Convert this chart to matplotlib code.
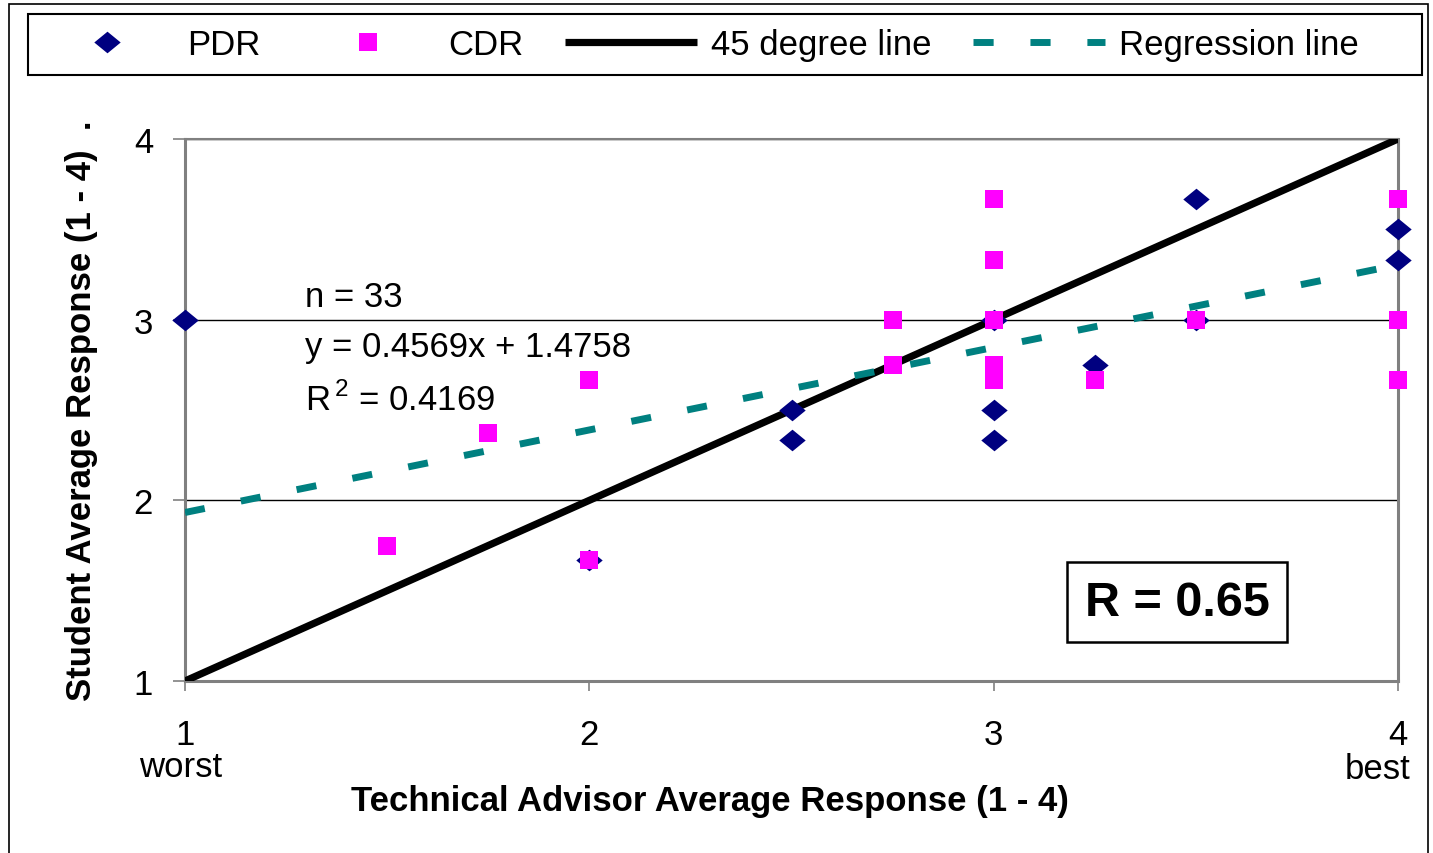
import numpy as np
import matplotlib.pyplot as plt
import matplotlib as mpl
from matplotlib.lines import Line2D
from matplotlib.patches import Rectangle

mpl.rcParams['font.family'] = 'Liberation Sans'
mpl.rcParams['font.size'] = 25
mpl.rcParams['mathtext.fontset'] = 'custom'
mpl.rcParams['mathtext.rm'] = 'Liberation Sans'

# data
pdr_x = [1, 2, 2.5, 2.5, 3, 3, 3, 3.25, 3.5, 3.5, 4, 4]
pdr_y = [3, 1.667, 2.5, 2.333, 3, 2.5, 2.333, 2.75, 3.667, 3, 3.5, 3.333]
cdr_x = [1.5, 1.75, 2, 2, 2.75, 2.75, 3, 3, 3, 3, 3, 3.25, 3.5, 4, 4, 4]
cdr_y = [1.75, 2.375, 2.667, 1.667, 3, 2.75, 3.667, 3.333, 3, 2.75, 2.667,
         2.667, 3, 3.667, 3, 2.667]

slope = 0.4569
intercept = 1.4758
n_obs = 33
r2 = 0.4169
r_value = 0.65

ticks = [1, 2, 3, 4]
labels = ['PDR', 'CDR', '45 degree line', 'Regression line']

navy = '#000080'
magenta = '#FF00FF'
teal = '#008080'
grey = '#808080'
diamond = [(-1, 0), (0, 0.82), (1, 0), (0, -0.82)]

fig = plt.figure(figsize=(14.33, 8.54), dpi=100)
ax = fig.add_axes([185/1433, 1 - 682/854, (1398 - 185)/1433, (682 - 140)/854])

# lines
ax.plot([1, 4], [1, 4], color='k', lw=5.2, solid_capstyle='butt', zorder=3)
xr = np.array([1, 4])
ax.plot(xr, slope*xr + intercept, color=teal, lw=5, dashes=(2.9, 5.3),
        dash_capstyle='butt', zorder=3)

# points
ax.plot(pdr_x, pdr_y, ls='none', marker=diamond, ms=19, color=navy,
        mew=0, clip_on=False, zorder=4)
ax.plot(cdr_x, cdr_y, ls='none', marker='s', ms=13.5, color=magenta,
        mew=0, clip_on=False, zorder=5)

ax.set_xlim(1, 4)
ax.set_ylim(1, 4)
ax.set_xticks(ticks)
ax.set_yticks(ticks)
ax.yaxis.grid(True, color='k', lw=1)
ax.set_axisbelow(True)
for s in ['left', 'bottom', 'right']:
    ax.spines[s].set_color(grey)
    ax.spines[s].set_linewidth(2.2)
ax.spines['top'].set_color(grey)
ax.spines['top'].set_linewidth(1.5)
ax.tick_params(axis='y', direction='out', length=9, width=1.2, color=grey, pad=14)
ax.tick_params(axis='x', direction='out', length=7, width=1.2, color=grey, pad=20)

ax.set_ylabel('Student Average Response (1 - 4)  .', fontweight='bold', labelpad=26)
ax.set_xlabel('Technical Advisor Average Response (1 - 4)', fontweight='bold')
ax.xaxis.set_label_coords(0.433, -0.19)

xt = ax.get_xaxis_transform()
ax.text(0.99, -0.157, 'worst', transform=xt, ha='center', va='center')
ax.text(3.95, -0.162, 'best', transform=xt, ha='center', va='center')

ax.text(1.297, 3.13, 'n = %d' % n_obs, va='center')
ax.text(1.297, 2.85, 'y = %.4fx + %.4f' % (slope, intercept), va='center')
ax.text(1.297, 2.56, r'R$^{\,2}$ = %.4f' % r2, va='center')

ax.text(3.454, 1.437, 'R = %.2f' % r_value, fontsize=35, fontweight='bold',
        ha='center', va='center', zorder=6,
        bbox=dict(boxstyle='square,pad=0.36', fc='white', ec='k', lw=1.8))

# outer frame and legend box
fig.add_artist(Rectangle((9/1433, -0.05), 1419/1433, 1.05 - 5/854,
                         transform=fig.transFigure, fill=False, ec='k', lw=1.2))
fig.add_artist(Rectangle((28/1433, 1 - 76/854), 1394/1433, 61/854,
                         transform=fig.transFigure, fill=False, ec='k', lw=1.5))

handles = [
    Line2D([], [], ls='none', marker=diamond, ms=19, color=navy, mew=0),
    Line2D([], [], ls='none', marker='s', ms=13.5, color=magenta, mew=0),
    Line2D([], [], color='k', lw=5.2, solid_capstyle='butt'),
    Line2D([], [], color=teal, lw=5, dashes=(2.9, 5.3), dash_capstyle='butt'),
]
fig.legend(handles, labels, loc='center', bbox_to_anchor=(700/1433, 1 - 45.5/854),
           ncol=4, frameon=False, handlelength=3.8, handletextpad=0.4,
           columnspacing=1.2, fontsize=25, numpoints=1)

fig.savefig('out.png', dpi=100)
